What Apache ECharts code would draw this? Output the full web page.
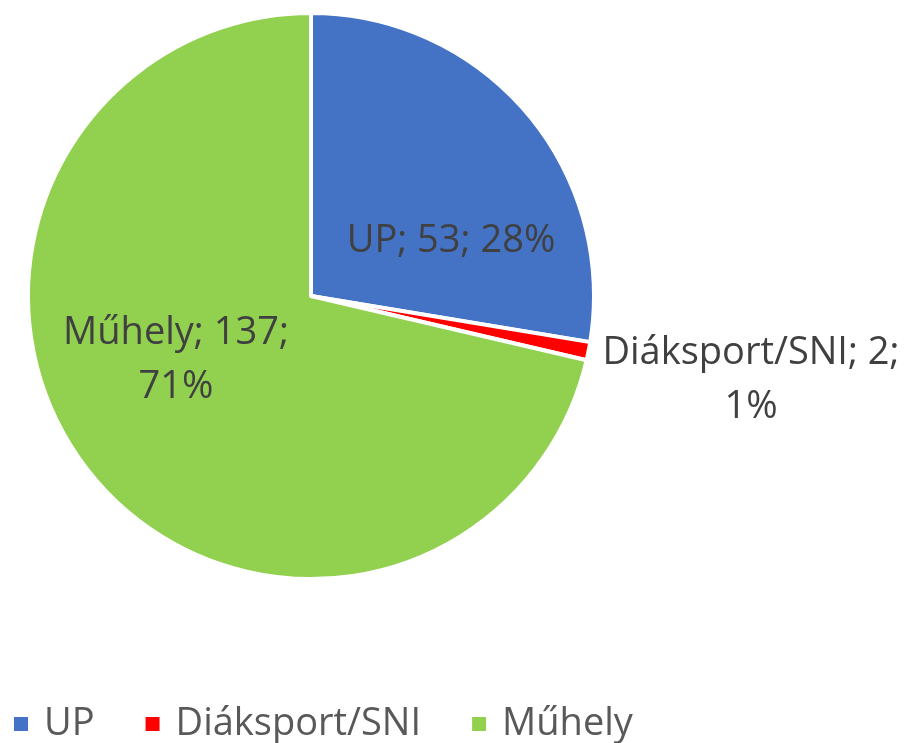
<!DOCTYPE html>
<html lang="hu">
<head>
    <meta charset="utf-8">
    <title>Pie</title>
    <script src="https://cdn.jsdelivr.net/npm/echarts@6/dist/echarts.min.js"></script>
    <style>
        html, body { margin:0; padding:0; background:#fff; }
        #chart { width:912px; height:743px; }
    </style>
</head>
<body>
<div id="chart"></div>
<script type="text/javascript">
    // adatok
    var categories = ['UP', 'Diáksport/SNI', 'Műhely'];
    var values = [53, 2, 137];
    var colors = ['#4472C4', '#FF0000', '#92D050'];

    // label positions (Excel puts them a bit differently than echarts)
    var labelPos = [
        { x: 451, y: 241 },
        { x: 751, y: 380 },
        { x: 176, y: 360 }
    ];

    var data = [];
    for (var i = 0; i < categories.length; i++) {
        data.push({ name: categories[i], value: values[i], itemStyle: { color: colors[i] } });
    }

    var myChart = echarts.init(document.getElementById('chart'));
    var option = {
        animation: false,
        legend: {
            top: 700,
            left: 7,
            icon: 'rect',
            itemWidth: 16,
            itemHeight: 16,
            itemGap: 49,
            textStyle: { fontFamily: 'Open Sans', fontSize: 38, color: '#595959', padding: [0, 0, 0, 10] },
            data: categories
        },
        series: [
            {
                type: 'pie',
                radius: 283,
                center: [311, 296],
                startAngle: 90,
                clockwise: true,
                percentPrecision: 0,
                itemStyle: { borderColor: '#fff', borderWidth: 4 },
                label: {
                    show: true,
                    position: 'inside',
                    fontFamily: 'Open Sans',
                    fontSize: 38,
                    lineHeight: 54,
                    color: '#404040',
                    formatter: function (p) {
                        if (p.dataIndex === 0) return p.name + '; ' + p.value + '; ' + p.percent + '%';
                        return p.name + '; ' + p.value + ';\n' + p.percent + '%';
                    }
                },
                labelLine: { show: false },
                labelLayout: function (p) {
                    var lp = labelPos[p.dataIndex];
                    return { x: lp.x, y: lp.y, align: 'center', verticalAlign: 'middle' };
                },
                emphasis: { disabled: true },
                data: data
            }
        ]
    };
    myChart.setOption(option);
</script>
</body>
</html>
